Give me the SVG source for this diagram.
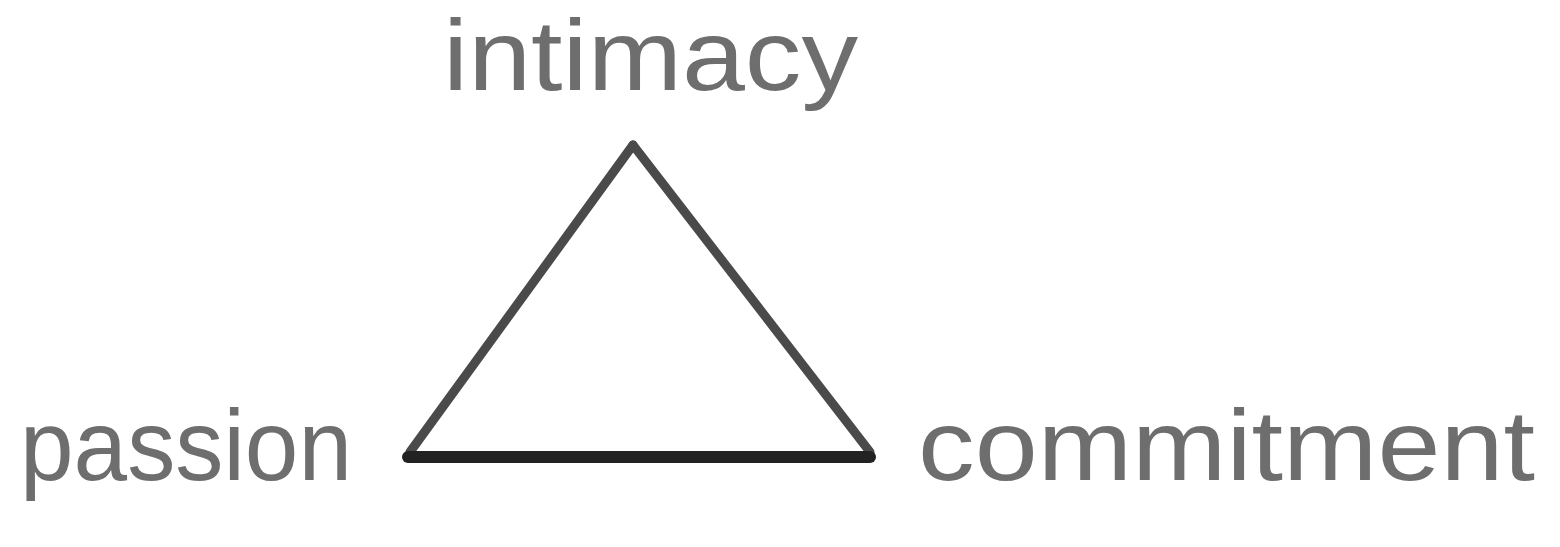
<svg xmlns="http://www.w3.org/2000/svg" width="1560" height="547" viewBox="0 0 1560 547">
<style>
.lbl{font-family:"Liberation Sans",Arial,sans-serif;font-size:100px;fill:#6e6e6e;}
.side{stroke:#4a4a4a;stroke-width:9;fill:none;stroke-linecap:round;}
.base{stroke:#222;stroke-width:12;fill:none;stroke-linecap:round;}
</style>
<rect width="1560" height="547" fill="#fff"/>
<g id="intimacy"><text class="lbl" x="443" y="90" textLength="415" lengthAdjust="spacingAndGlyphs">intimacy</text></g>
<g id="passion"><text class="lbl" x="20" y="480" textLength="332" lengthAdjust="spacingAndGlyphs">passion</text></g>
<g id="commitment"><text class="lbl" x="918" y="480" textLength="617" lengthAdjust="spacingAndGlyphs">commitment</text></g>
<g id="connectors">
<line class="side" x1="633" y1="145" x2="410" y2="452"/>
<line class="side" x1="633" y1="145" x2="870" y2="452"/>
<line class="base" x1="408" y1="457" x2="870" y2="457"/>
</g>
</svg>
